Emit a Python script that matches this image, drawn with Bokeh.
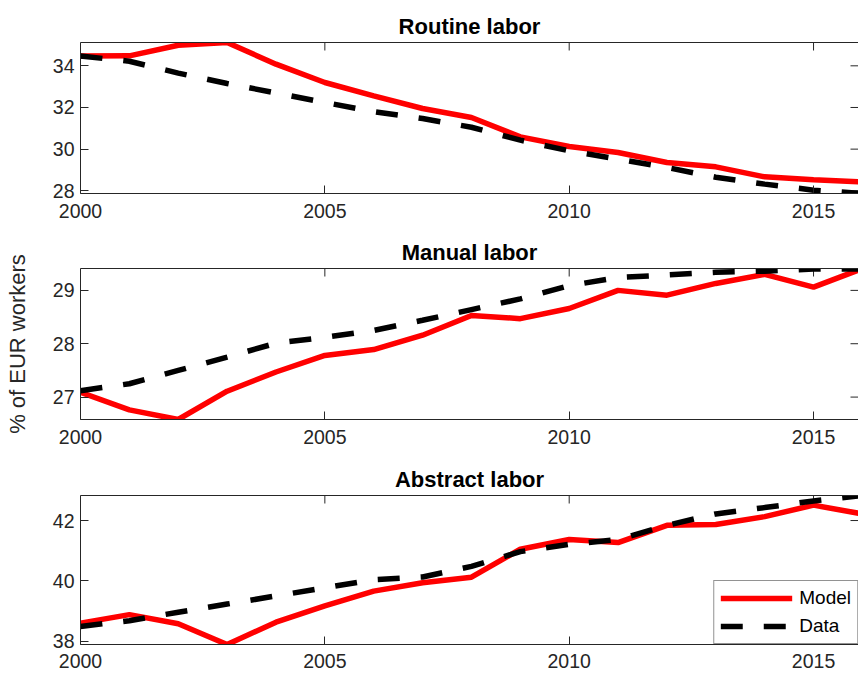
import math
from bokeh.plotting import figure
from bokeh.models import Range1d, LinearAxis, FixedTicker, Legend, LegendItem
from bokeh.layouts import column
from bokeh.embed import file_html
from bokeh.resources import INLINE

years = list(range(2000, 2017))
x_ticks = [2000, 2005, 2010, 2015]
x_end = 2015.92

routine_title = "Routine labor"
routine_model = [34.47, 34.48, 34.99, 35.12, 34.08, 33.20, 32.56, 31.95, 31.52, 30.59,
                 30.13, 29.84, 29.36, 29.15, 28.67, 28.53, 28.42]
routine_data = [34.47, 34.22, 33.65, 33.15, 32.70, 32.24, 31.80, 31.47, 31.05, 30.43,
                29.92, 29.52, 29.12, 28.65, 28.32, 28.03, 27.87]
routine_ticks = [28, 30, 32, 34]

manual_title = "Manual labor"
manual_model = [27.09, 26.76, 26.58, 27.11, 27.47, 27.78, 27.89, 28.16, 28.53, 28.47,
                28.66, 29.00, 28.91, 29.13, 29.30, 29.06, 29.41]
manual_data = [27.12, 27.25, 27.50, 27.75, 28.01, 28.12, 28.25, 28.44, 28.64, 28.84,
               29.09, 29.24, 29.29, 29.34, 29.36, 29.40, 29.40]
manual_ticks = [27, 28, 29]

abstract_title = "Abstract labor"
abstract_model = [38.60, 38.88, 38.58, 37.89, 38.63, 39.17, 39.66, 39.94, 40.12, 41.05,
                  41.37, 41.27, 41.84, 41.87, 42.13, 42.51, 42.22]
abstract_data = [38.49, 38.68, 38.96, 39.23, 39.50, 39.77, 40.04, 40.13, 40.48, 40.97,
                 41.21, 41.37, 41.84, 42.22, 42.43, 42.65, 42.83]
abstract_ticks = [38, 40, 42]

y_label = "% of EUR workers"
legend_labels = ["Model", "Data"]

FONT = "Liberation Sans"
AXC = "#262626"


def style_axis(ax, ticks):
    ax.ticker = FixedTicker(ticks=ticks)
    ax.major_tick_in = 8
    ax.major_tick_out = 0
    ax.minor_tick_line_color = None
    ax.major_tick_line_color = AXC
    ax.major_tick_line_width = 1
    ax.axis_line_color = AXC
    ax.axis_line_width = 1
    ax.major_label_text_font = FONT
    ax.major_label_text_color = AXC
    ax.major_label_text_font_size = "19.5px"


def panel(title, model, data, yticks, height, top, bottom, xstand, ylabel=None, legend=False):
    ymin = min(min(model), min(data))
    ymax = max(max(model), max(data))
    p = figure(width=858, height=height,
               x_range=Range1d(2000, x_end), y_range=Range1d(ymin, ymax),
               output_backend="svg", toolbar_location=None,
               min_border_left=80, min_border_right=0,
               min_border_top=top, min_border_bottom=bottom)
    p.outline_line_color = None
    p.grid.visible = False
    p.background_fill_color = "white"
    p.border_fill_color = "white"

    p.title.text = title
    p.title.text_font = FONT
    p.title.text_font_size = "22px"
    p.title.text_font_style = "bold"
    p.title.text_color = "black"
    p.title.align = "center"
    p.title.standoff = 7

    style_axis(p.xaxis[0], x_ticks)
    p.xaxis[0].major_label_standoff = xstand
    style_axis(p.yaxis[0], yticks)
    p.yaxis[0].major_label_standoff = 6

    # top frame line (no ticks / labels on the axis itself)
    top_ax = LinearAxis(ticker=FixedTicker(ticks=[]))
    top_ax.major_tick_in = 0
    top_ax.major_tick_out = 0
    top_ax.minor_tick_line_color = None
    top_ax.major_label_standoff = 0
    top_ax.axis_line_color = AXC
    top_ax.axis_line_width = 1
    p.add_layout(top_ax, "above")

    # inward ticks on the top and right edges of the box
    p.ray(x=x_ticks, y=[ymax] * len(x_ticks), length=8, length_units="screen",
          angle=-math.pi / 2, line_color=AXC, line_width=1)
    p.ray(x=[x_end] * len(yticks), y=yticks, length=8, length_units="screen",
          angle=math.pi, line_color=AXC, line_width=1)

    if ylabel:
        p.yaxis[0].axis_label = ylabel
        p.yaxis[0].axis_label_text_font = FONT
        p.yaxis[0].axis_label_text_font_size = "22px"
        p.yaxis[0].axis_label_text_font_style = "normal"
        p.yaxis[0].axis_label_text_color = AXC
        p.yaxis[0].axis_label_standoff = 20

    r1 = p.line(years, model, line_color="#ff0000", line_width=5.5)
    r2 = p.line(years, data, line_color="black", line_width=5.5, line_dash="22 21")

    if legend:
        lg = Legend(items=[LegendItem(label=legend_labels[0], renderers=[r1]),
                           LegendItem(label=legend_labels[1], renderers=[r2])],
                    location="bottom_right", margin=0, padding=6, spacing=6,
                    glyph_width=72, glyph_height=20, label_height=20, label_standoff=7,
                    label_text_font=FONT, label_text_font_size="19px",
                    label_text_color="black",
                    border_line_color=AXC, border_line_width=1,
                    background_fill_color="white", background_fill_alpha=1)
        p.add_layout(lg)
    return p


p1 = panel(routine_title, routine_model, routine_data, routine_ticks, 230, 42, 37, 10)
p2 = panel(manual_title, manual_model, manual_data, manual_ticks, 227, 38, 38, 10, ylabel=y_label)
p3 = panel(abstract_title, abstract_model, abstract_data, abstract_ticks, 218, 38, 31, 9, legend=True)

layout = column(p1, p2, p3, spacing=0)
open("out.html", "w").write(file_html(layout, INLINE))
